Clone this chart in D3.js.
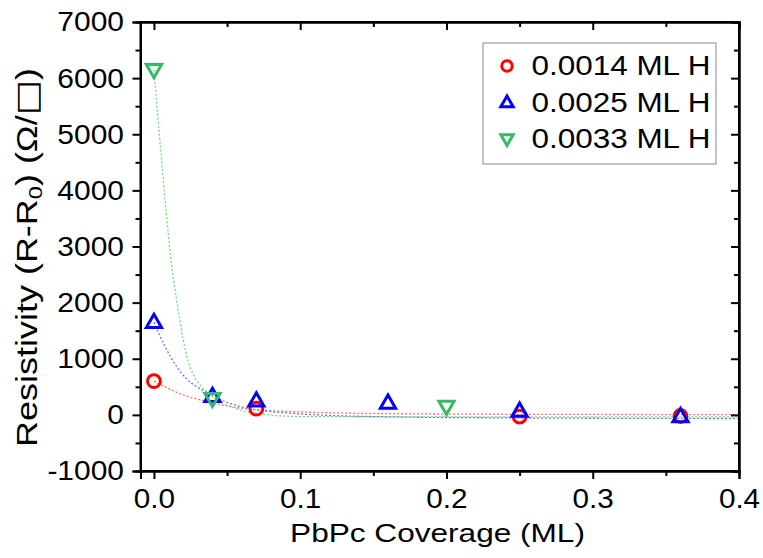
<!DOCTYPE html>
<html>
<head>
<meta charset="utf-8">
<script src="https://cdn.jsdelivr.net/npm/d3@7"></script>
<style>
  body { margin: 0; background: #fff; }
  text { font-family: "Liberation Sans", Arial, sans-serif; fill: #000; }
</style>
</head>
<body>
<div id="chart"></div>
<script>
// measured points
const seriesNames = ["0.0014 ML H", "0.0025 ML H", "0.0033 ML H"];
const seriesColors = ["#ff0000", "#0000ff", "#33bb66"];
const fitColors = ["#ff7070", "#7070ff", "#70dd70"];

const redX = [0, 0.07, 0.25, 0.36];
const redY = [600, 110, -30, -20];
const blueX = [0, 0.04, 0.07, 0.16, 0.25, 0.36];
const blueY = [1650, 330, 250, 210, 70, -30];
const greenX = [0, 0.04, 0.2];
const greenY = [6150, 290, 150];

// fit curves
const redFitX = [0, 0.02, 0.036, 0.059, 0.093, 0.15, 0.25, 0.4];
const redFitY = [600, 356, 240, 120, 60, 25, 10, 5];
const blueFitX = [0, 0.0075, 0.0155, 0.04, 0.059, 0.093, 0.15, 0.25, 0.4];
const blueFitY = [1650, 1220, 860, 340, 150, 30, -30, -55, -65];
const greenFitX = [0, 0.005, 0.0114, 0.0155, 0.0246, 0.04, 0.055, 0.075, 0.1, 0.2, 0.4];
const greenFitY = [6150, 4600, 2820, 2050, 860, 330, 120, 10, -30, -35, -35];

const xTicks = [0.0, 0.1, 0.2, 0.3, 0.4];
const yTicks = [-1000, 0, 1000, 2000, 3000, 4000, 5000, 6000, 7000];

const W = 763, H = 558;
const margin = {top: 22, right: 24, bottom: 87, left: 140.5};
const width = W - margin.left - margin.right;
const height = H - margin.top - margin.bottom;

const svg = d3.select("#chart").append("svg")
  .attr("width", W).attr("height", H);
const g = svg.append("g").attr("transform", `translate(${margin.left},${margin.top})`);

const x = d3.scaleLinear().domain([-0.0092, 0.4]).range([0, width]);
const y = d3.scaleLinear().domain([-1000, 7000]).range([height, 0]);

// the original font runs wider than Liberation Sans, so widen glyphs with a scale
function widenTicks(sel, k) {
  sel.each(function() {
    const t = d3.select(this);
    const tx = +t.attr("x") || 0, ty = +t.attr("y") || 0;
    t.attr("x", 0).attr("y", 0).attr("transform", `translate(${tx},${ty}) scale(${k},1)`);
  });
}

// fit lines
const line = d3.line().x(d => x(d[0])).y(d => y(d[1])).curve(d3.curveMonotoneX);
const fits = [
  d3.zip(redFitX, redFitY),
  d3.zip(blueFitX, blueFitY),
  d3.zip(greenFitX, greenFitY)
];
fits.forEach((f, i) => {
  g.append("path").datum(f)
    .attr("d", line)
    .attr("fill", "none")
    .attr("stroke", fitColors[i])
    .attr("stroke-width", 1.3)
    .attr("stroke-dasharray", "2,2");
});

// axes
const fmtX = d3.format(".1f");
g.append("g").attr("transform", `translate(0,${height})`)
  .call(d3.axisBottom(x).tickValues(xTicks).tickFormat(fmtX).tickSize(8).tickPadding(8))
  .call(a => a.selectAll("text").style("font-size", "28px").attr("dy", "0.74em").call(widenTicks, 1.06));
g.append("g").attr("transform", `translate(0,${height})`)
  .call(d3.axisBottom(x).tickValues([0.05, 0.15, 0.25, 0.35]).tickFormat("").tickSize(5));
g.append("g")
  .call(d3.axisLeft(y).tickValues(yTicks).tickFormat(d => String(d)).tickSize(8).tickPadding(8.5))
  .call(a => a.selectAll("text").style("font-size", "28px").call(widenTicks, 1.07));
g.append("g")
  .call(d3.axisLeft(y).tickValues(d3.range(-500, 7000, 1000)).tickFormat("").tickSize(5));
// top and right (ticks inward)
g.append("g")
  .call(d3.axisBottom(x).tickValues(xTicks).tickFormat("").tickSize(8));
g.append("g")
  .call(d3.axisBottom(x).tickValues([0.05, 0.15, 0.25, 0.35]).tickFormat("").tickSize(5));
g.append("g").attr("transform", `translate(${width},0)`)
  .call(d3.axisLeft(y).tickValues(yTicks).tickFormat("").tickSize(8));
g.append("g").attr("transform", `translate(${width},0)`)
  .call(d3.axisLeft(y).tickValues(d3.range(-500, 7000, 1000)).tickFormat("").tickSize(5));

g.selectAll(".domain").attr("stroke", "#000").attr("stroke-width", 2);
g.selectAll(".tick line").attr("stroke", "#000").attr("stroke-width", 2);
g.append("rect").attr("width", width).attr("height", height)
  .attr("fill", "none").attr("stroke", "#000").attr("stroke-width", 2);

// markers
function triUp(s) { return `M0,${-s}L${s * 0.95},${s * 0.65}L${-s * 0.95},${s * 0.65}Z`; }
function triDown(s) { return `M0,${s}L${s * 0.95},${-s * 0.65}L${-s * 0.95},${-s * 0.65}Z`; }

function marker(sel, type, color, size) {
  if (type === 0) {
    sel.append("circle").attr("r", size * 0.8).attr("fill", "none")
      .attr("stroke", color).attr("stroke-width", 3);
  } else {
    sel.append("path").attr("d", type === 1 ? triUp(size) : triDown(size))
      .attr("fill", "none").attr("stroke", color).attr("stroke-width", 3)
      .attr("stroke-linejoin", "miter");
  }
}

const pts = [d3.zip(redX, redY), d3.zip(blueX, blueY), d3.zip(greenX, greenY)];
pts.forEach((p, i) => {
  p.forEach(d => {
    const m = g.append("g").attr("transform", `translate(${x(d[0])},${y(d[1])})`);
    marker(m, i, seriesColors[i], 8);
  });
});

// stretch a text so it spans the given width
function stretchTo(t, base, target) {
  const k = target / t.node().getComputedTextLength();
  t.attr("transform", `${base} scale(${k},1)`);
}

// axis titles
const xt = svg.append("text")
  .attr("text-anchor", "middle").style("font-size", "26px")
  .text("PbPc Coverage (ML)");
stretchTo(xt, "translate(437.5,542)", 295);

const yt = svg.append("text")
  .attr("text-anchor", "middle").style("font-size", "29px");
yt.append("tspan").text("Resistivity (R-R");
yt.append("tspan").text("0").style("font-size", "19px").attr("dy", "5");
yt.append("tspan").text(") (Ω/").attr("dy", "-5");
yt.append("tspan").text("□").style("font-family", "'DejaVu Sans'").style("font-size", "30px");
yt.append("tspan").text(")");
stretchTo(yt, "translate(37,257.5) rotate(-90)", 379);

// legend
const lg = svg.append("g");
lg.append("rect").attr("x", 483).attr("y", 43).attr("width", 233).attr("height", 121)
  .attr("fill", "#fff").attr("stroke", "#888").attr("stroke-width", 1);
seriesNames.forEach((n, i) => {
  const cy = 65 + i * 36.5;
  const m = lg.append("g").attr("transform", `translate(507,${cy + 1})`);
  marker(m, i, seriesColors[i], 6.5);
  const t = lg.append("text").style("font-size", "28px").text(n);
  stretchTo(t, `translate(531.5,${cy + 10})`, 179);
});
</script>
</body>
</html>
